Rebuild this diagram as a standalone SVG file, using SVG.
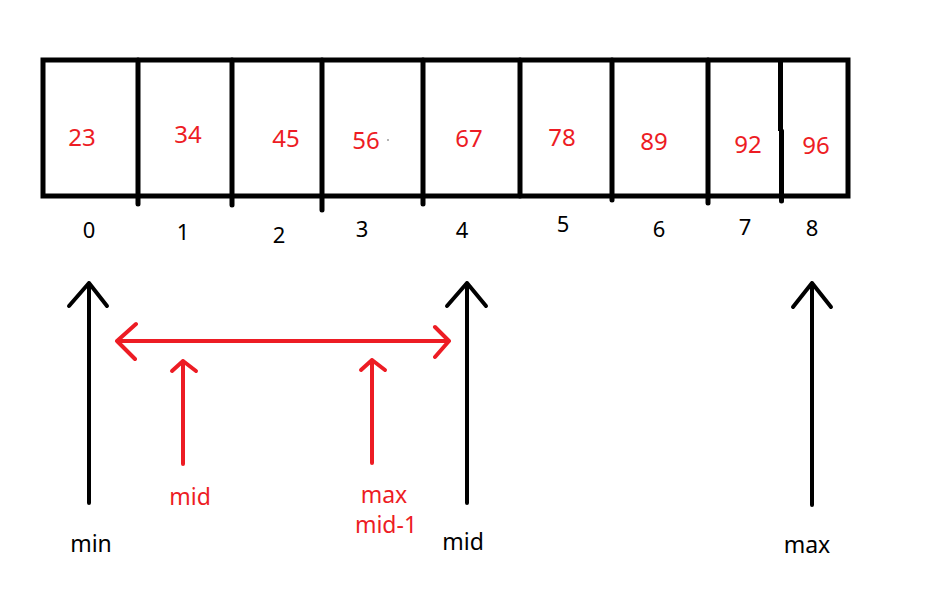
<svg xmlns="http://www.w3.org/2000/svg" width="950" height="599" viewBox="0 0 950 599">
<style>
.box{fill:none;stroke:#000;stroke-width:5}
.div{stroke:#000;stroke-width:5;stroke-linecap:round}
.val{font-family:"Noto Sans","Open Sans",sans-serif;font-size:24px;fill:#ED1C24;text-anchor:middle}
.idx{font-family:"Noto Sans","Open Sans",sans-serif;font-size:22px;fill:#000;text-anchor:middle}
.lbl{font-family:"Noto Sans","Open Sans",sans-serif;font-size:23px;text-anchor:middle}
.blk{fill:none;stroke:#000;stroke-width:4;stroke-linecap:round;stroke-linejoin:round}
.red{fill:none;stroke:#ED1C24;stroke-width:4;stroke-linecap:round;stroke-linejoin:round}
</style>
<rect width="950" height="599" fill="#fff"/>
<g id="array">
<rect class="box" x="43" y="60" width="805" height="136"/>
<line class="div" x1="138" y1="60" x2="138" y2="204"/>
<line class="div" x1="232" y1="60" x2="232" y2="205"/>
<line class="div" x1="322" y1="60" x2="322" y2="210"/>
<line class="div" x1="423" y1="60" x2="423" y2="204"/>
<line class="div" x1="520" y1="60" x2="520" y2="196"/>
<line class="div" x1="612" y1="60" x2="612" y2="200"/>
<line class="div" x1="708" y1="60" x2="708" y2="203"/>
<line stroke="#000" stroke-width="5" x1="780.5" y1="60" x2="780.5" y2="131"/>
<line class="div" x1="781.5" y1="131" x2="781.5" y2="201"/>
</g>
<g id="values">
<text class="val" x="82" y="146">23</text>
<text class="val" x="188" y="143">34</text>
<text class="val" x="286" y="147">45</text>
<text class="val" x="366" y="149">56</text>
<circle cx="388" cy="140" r="0.8" fill="#555"/>
<text class="val" x="469" y="147">67</text>
<text class="val" x="562" y="146">78</text>
<text class="val" x="654" y="150">89</text>
<text class="val" x="748" y="153">92</text>
<text class="val" x="816" y="154">96</text>
</g>
<g id="indices">
<text class="idx" x="89" y="238">0</text>
<text class="idx" x="183" y="240">1</text>
<text class="idx" x="279" y="243">2</text>
<text class="idx" x="362" y="237">3</text>
<text class="idx" x="462" y="238">4</text>
<text class="idx" x="563" y="232">5</text>
<text class="idx" x="659" y="237">6</text>
<text class="idx" x="745" y="235">7</text>
<text class="idx" x="812" y="236">8</text>
</g>
<g id="connectors">
<path class="blk" d="M89 503V283M69 306L89 283L107 306"/>
<path class="blk" d="M467 503V283M447 306L467 283L486 306"/>
<path class="blk" d="M812 505V283M793 307L812 283L831 307"/>
<path class="red" d="M117 341H449M136 324L117 341L135 359M435 327L449 341L435 357"/>
<path class="red" d="M183 464V361M172 371L183 361L196 371"/>
<path class="red" d="M372 463V360M361 370L372 360L385 370"/>
</g>
<g id="min-label"><text class="lbl" x="91" y="552" fill="#000">min</text></g>
<g id="mid-label"><text class="lbl" x="463" y="550" fill="#000">mid</text></g>
<g id="max-label"><text class="lbl" x="807" y="553" fill="#000">max</text></g>
<g id="red-mid-label"><text class="lbl" x="190" y="505" fill="#ED1C24">mid</text></g>
<g id="red-max-label">
<text class="lbl" x="384" y="503" fill="#ED1C24">max</text>
<text class="lbl" x="386" y="533" fill="#ED1C24">mid-1</text>
</g>
</svg>
